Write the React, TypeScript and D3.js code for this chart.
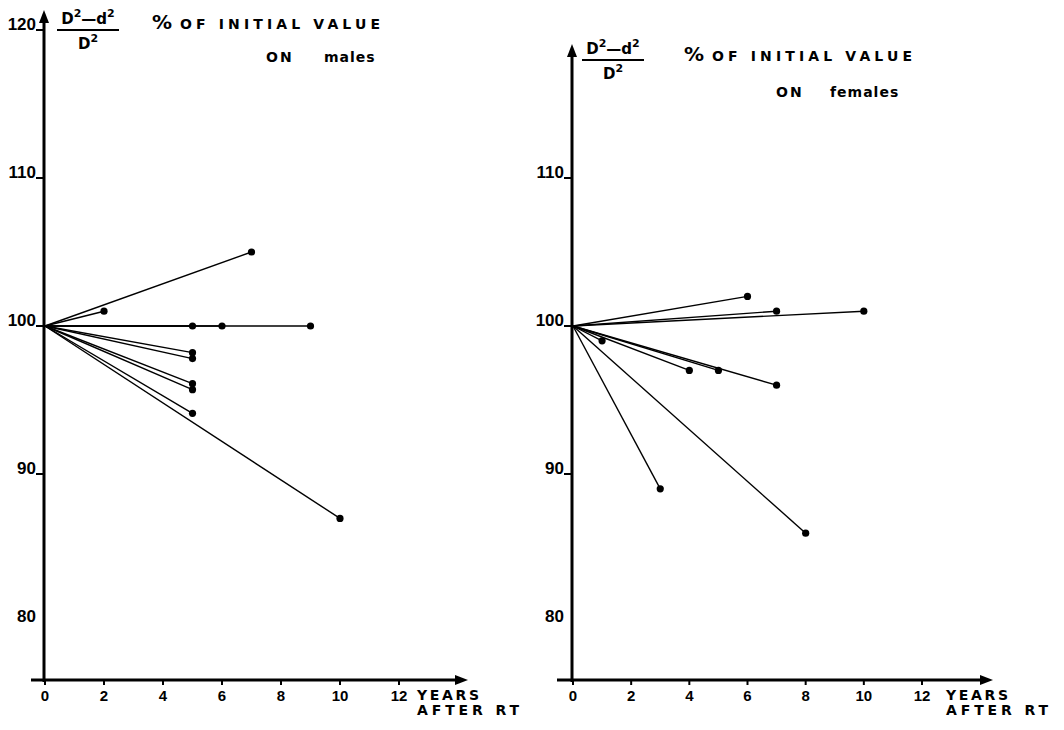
import React, { useRef, useEffect } from "react";
import * as d3 from "d3";

// Data: % of initial value (D^2-d^2)/D^2, per patient, years after RT
const yearTicks = [0, 2, 4, 6, 8, 10, 12];
const maleYTicks = [80, 90, 100, 110, 120];
const femaleYTicks = [80, 90, 100, 110];

const maleYears = [7, 2, 5, 6, 9, 5, 5, 5, 5, 5, 10];
const maleValues = [105, 101, 100, 100, 100, 98.2, 97.8, 96.1, 95.7, 94.1, 87];

const femaleYears = [6, 7, 10, 1, 4, 5, 7, 3, 8];
const femaleValues = [102, 101, 101, 99, 97, 97, 96, 89, 86];

const startYear = 0;
const startValue = 100;

type PanelCfg = {
  x0: number; x12: number; axisX: number; axisY: number; yTop: number;
  xLeft: number; xRight: number;
  fracX: number; fracY: number;
  pctX: number; pctY: number;
  onX: number; onY: number; group: string; groupX: number;
  yearsX: number;
  yTicks: number[];
  years: number[]; values: number[];
};

const panels: PanelCfg[] = [
  {
    x0: 45, x12: 399, axisX: 44, axisY: 680, yTop: 10, xLeft: 31, xRight: 468,
    fracX: 88, fracY: 30, pctX: 152, pctY: 29, onX: 266, onY: 62, group: "males", groupX: 324,
    yearsX: 417, yTicks: maleYTicks, years: maleYears, values: maleValues,
  },
  {
    x0: 573, x12: 922, axisX: 572, axisY: 680, yTop: 44, xLeft: 557, xRight: 993,
    fracX: 613, fracY: 60, pctX: 684, pctY: 61, onX: 776, onY: 97, group: "females", groupX: 830,
    yearsX: 946, yTicks: femaleYTicks, years: femaleYears, values: femaleValues,
  },
];

const tickFont = "'Liberation Sans', Arial, sans-serif";
const titleFont = "'DejaVu Sans', sans-serif";

const App = () => {
  const svgRef = useRef<SVGSVGElement>(null);

  useEffect(() => {
    const svg = d3.select(svgRef.current);
    svg.selectAll("*").remove();

    panels.forEach((p) => {
      const g = svg.append("g");

      const xScale = d3.scaleLinear().domain([0, 12]).range([p.x0, p.x12]);
      const yScale = d3.scaleLinear().domain([80, 120]).range([622, 30]);

      // axes
      g.append("line")
        .attr("x1", p.axisX).attr("x2", p.axisX)
        .attr("y1", p.axisY + 2).attr("y2", p.yTop + 10)
        .attr("stroke", "#000").attr("stroke-width", 3);
      g.append("path")
        .attr("d", `M${p.axisX},${p.yTop} L${p.axisX - 5},${p.yTop + 13} L${p.axisX + 5},${p.yTop + 13} Z`)
        .attr("fill", "#000");
      g.append("line")
        .attr("x1", p.xLeft).attr("x2", p.xRight - 10)
        .attr("y1", p.axisY).attr("y2", p.axisY)
        .attr("stroke", "#000").attr("stroke-width", 3);
      g.append("path")
        .attr("d", `M${p.xRight},${p.axisY} L${p.xRight - 13},${p.axisY - 5} L${p.xRight - 13},${p.axisY + 5} Z`)
        .attr("fill", "#000");

      // x ticks
      yearTicks.forEach((t) => {
        g.append("line")
          .attr("x1", xScale(t)).attr("x2", xScale(t))
          .attr("y1", p.axisY).attr("y2", p.axisY + 5)
          .attr("stroke", "#000").attr("stroke-width", 2);
        g.append("text")
          .attr("x", xScale(t)).attr("y", p.axisY + 21)
          .attr("text-anchor", "middle")
          .attr("font-family", tickFont).attr("font-weight", "bold").attr("font-size", 15)
          .text(t);
      });
      g.append("text")
        .attr("x", p.yearsX).attr("y", p.axisY + 20)
        .attr("font-family", titleFont).attr("font-weight", "bold").attr("font-size", 14)
        .attr("textLength", 62).attr("lengthAdjust", "spacing")
        .text("YEARS");
      g.append("text")
        .attr("x", p.yearsX).attr("y", p.axisY + 35)
        .attr("font-family", titleFont).attr("font-weight", "bold").attr("font-size", 14)
        .attr("textLength", 102).attr("lengthAdjust", "spacing")
        .text("AFTER RT");

      // y ticks
      p.yTicks.forEach((t) => {
        const y = yScale(t);
        if (t !== 80) {
          g.append("line")
            .attr("x1", p.axisX - 8).attr("x2", p.axisX)
            .attr("y1", y).attr("y2", y)
            .attr("stroke", "#000").attr("stroke-width", 2);
        }
        g.append("text")
          .attr("x", p.axisX - 8).attr("y", y)
          .attr("text-anchor", "end")
          .attr("font-family", tickFont).attr("font-weight", "bold").attr("font-size", 17)
          .text(t);
      });

      // fraction label
      const num = g.append("text")
        .attr("x", p.fracX).attr("y", p.fracY - 6)
        .attr("text-anchor", "middle")
        .attr("font-family", titleFont).attr("font-weight", "bold").attr("font-size", 15);
      num.append("tspan").text("D");
      num.append("tspan").attr("dy", -7).attr("font-size", 11).text("2");
      num.append("tspan").attr("dy", 7).text("\u2014d");
      num.append("tspan").attr("dy", -7).attr("font-size", 11).text("2");
      g.append("line")
        .attr("x1", p.fracX - 31).attr("x2", p.fracX + 31)
        .attr("y1", p.fracY).attr("y2", p.fracY)
        .attr("stroke", "#000").attr("stroke-width", 2);
      const den = g.append("text")
        .attr("x", p.fracX).attr("y", p.fracY + 19)
        .attr("text-anchor", "middle")
        .attr("font-family", titleFont).attr("font-weight", "bold").attr("font-size", 15);
      den.append("tspan").text("D");
      den.append("tspan").attr("dy", -7).attr("font-size", 11).text("2");

      // title
      g.append("text")
        .attr("x", p.pctX).attr("y", p.pctY)
        .attr("font-family", titleFont).attr("font-weight", "bold").attr("font-size", 20)
        .text("%");
      g.append("text")
        .attr("x", p.pctX + 28).attr("y", p.pctY)
        .attr("font-family", titleFont).attr("font-weight", "bold").attr("font-size", 14)
        .attr("textLength", 200).attr("lengthAdjust", "spacing")
        .text("OF INITIAL VALUE");
      g.append("text")
        .attr("x", p.onX).attr("y", p.onY)
        .attr("font-family", titleFont).attr("font-weight", "bold").attr("font-size", 14)
        .attr("letter-spacing", 2)
        .text("ON");
      g.append("text")
        .attr("x", p.groupX).attr("y", p.onY)
        .attr("font-family", titleFont).attr("font-weight", "bold").attr("font-size", 14)
        .attr("letter-spacing", 1)
        .text(p.group);

      // patient lines
      const lineGenerator = d3.line<[number, number]>()
        .x((d) => xScale(d[0]))
        .y((d) => yScale(d[1]));

      p.years.forEach((yr, i) => {
        const pts: [number, number][] = [[startYear, startValue], [yr, p.values[i]]];
        g.append("path")
          .attr("d", lineGenerator(pts))
          .attr("fill", "none")
          .attr("stroke", "#000")
          .attr("stroke-width", 1.4);
        g.append("circle")
          .attr("cx", xScale(yr)).attr("cy", yScale(p.values[i]))
          .attr("r", 3.6)
          .attr("fill", "#000");
      });
    });
  }, []);

  return (
    <svg
      ref={svgRef}
      width={1064}
      height={730}
      style={{ position: "absolute", left: 0, top: 0, background: "#fff" }}
    />
  );
};

export default App;
